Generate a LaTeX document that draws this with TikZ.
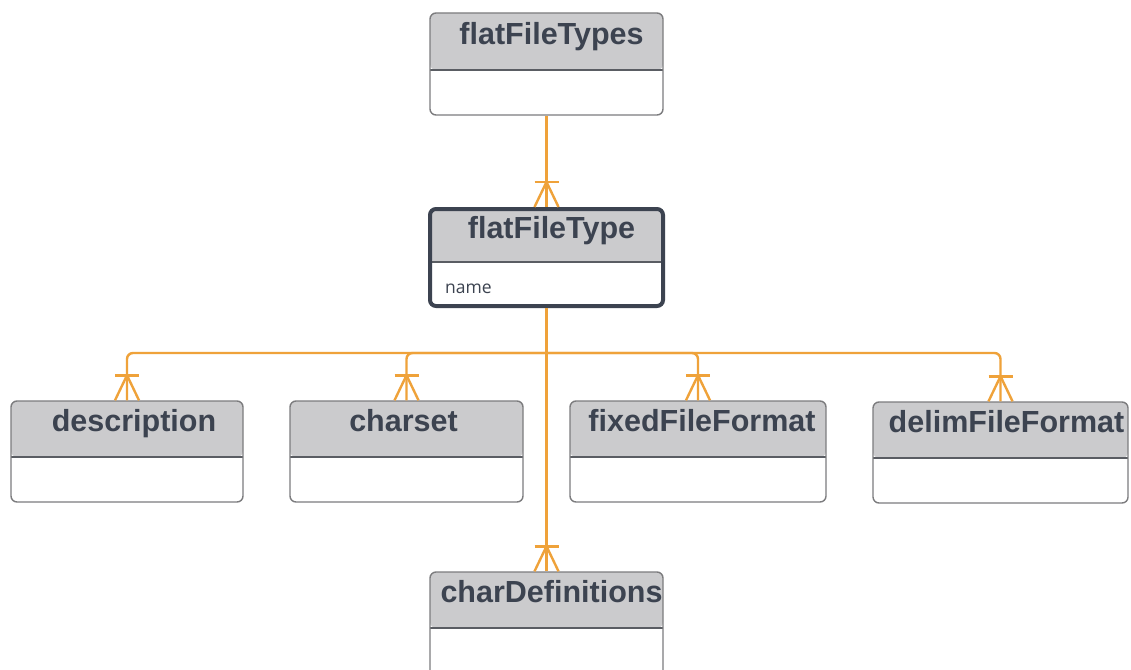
\documentclass[tikz,border=0pt]{standalone}
\usepackage{fontspec}
\setmainfont{Liberation Sans}
\newfontfamily\attrfont{Open Sans}
\definecolor{hdr}{HTML}{CBCBCD}
\definecolor{bordergray}{HTML}{7C7C7E}
\definecolor{divgray}{HTML}{5A5D63}
\definecolor{darkslate}{HTML}{3C4350}
\definecolor{linkorange}{HTML}{EFA23A}
\tikzset{
  ebox/.style n args={3}{draw=bordergray, line width=1.4pt, rounded corners=6pt, fill=white,
    inner sep=0pt, minimum width=#1pt, minimum height=#2pt,
    path picture={\fill[hdr] (path picture bounding box.north west) rectangle ([yshift=-#3pt]path picture bounding box.north east);
      \draw[divgray, line width=1.4pt] ([yshift=-#3pt]path picture bounding box.north west) -- ([yshift=-#3pt]path picture bounding box.north east);}},
  mainbox/.style={draw=darkslate, line width=4pt},
  ttl/.style={anchor=base, text=darkslate, font=\bfseries\fontsize{30.5}{36}\selectfont, inner sep=0pt},
  attr/.style={anchor=base west, text=darkslate, font=\attrfont\fontsize{17.5}{21}\selectfont, inner sep=0pt},
  link/.style={draw=linkorange, line width=2.4pt, rounded corners=6pt},
  foot/.style={draw=linkorange, line width=2.4pt}
}
\newcommand{\crowfoot}[1]{%
  \draw[foot] ([xshift=-12pt,yshift=25pt]#1.north) -- ([xshift=12pt,yshift=25pt]#1.north);
  \draw[foot] ([xshift=-12pt]#1.north) -- ([yshift=25pt]#1.north) -- ([xshift=12pt]#1.north);
}
\begin{document}
\begin{tikzpicture}[x=1pt,y=-1pt]
\useasboundingbox (0,0) rectangle (1131,669);
\fill[white] (0,0) rectangle (1131,669);
\clip (0,0) rectangle (1131,669);

% entities
\node[ebox={233}{102}{57}] (types) at (546.5,64) {};
\node[ebox={233}{97}{53}, mainbox] (ft) at (546.5,257.5) {};
\node[ebox={232}{101}{56}] (desc) at (127,451.5) {};
\node[ebox={233}{101}{56}] (charset) at (406.5,451.5) {};
\node[ebox={256}{101}{56}] (fixed) at (698,451.5) {};
\node[ebox={255}{101}{56}] (delim) at (1000.5,452.5) {};
\node[ebox={233}{118}{56}] (chardef) at (546.5,631) {};

% titles
\node[ttl] (typesT) at ([xshift=5pt,yshift=-32pt]types.north) {flatFileTypes};
\node[ttl] (ftT) at ([xshift=5pt,yshift=-31pt]ft.north) {flatFileType};
\node[attr] (ftA) at ([xshift=17pt,yshift=-86pt]ft.north west) {name};
\node[ttl] (descT) at ([xshift=7pt,yshift=-31pt]desc.north) {description};
\node[ttl] (charsetT) at ([xshift=-3pt,yshift=-31pt]charset.north) {charset};
\node[ttl] (fixedT) at ([xshift=4pt,yshift=-31pt]fixed.north) {fixedFileFormat};
\node[ttl] (delimT) at ([xshift=6pt,yshift=-31pt]delim.north) {delimFileFormat};
\node[ttl] (chardefT) at ([xshift=5pt,yshift=-31pt]chardef.north) {charDefinitions};

% connectors
\coordinate (bus) at (546.5,353);
\draw[link] (types.south) -- (ft.north);
\draw[link] (ft.south) -- (chardef.north);
\draw[link] (bus) -| (desc.north);
\draw[link] (bus) -| (charset.north);
\draw[link] (bus) -| (fixed.north);
\draw[link] (bus) -| (delim.north);

\crowfoot{ft}
\crowfoot{desc}
\crowfoot{charset}
\crowfoot{fixed}
\crowfoot{delim}
\crowfoot{chardef}
\end{tikzpicture}
\end{document}
